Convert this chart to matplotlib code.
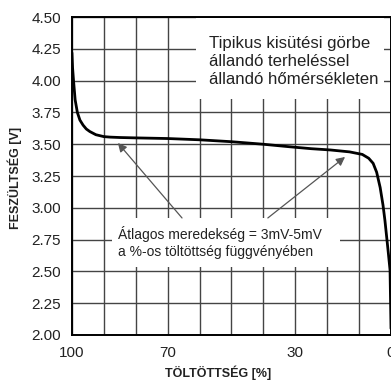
import matplotlib
matplotlib.use("Agg")
import matplotlib.pyplot as plt
from matplotlib.patches import Rectangle

plt.rcParams['font.family'] = ['Liberation Sans', 'DejaVu Sans']

# Discharge curve (state of charge in %, voltage in V)
soc = [100, 99.8, 99.5, 99.0, 98.3, 97.5, 96.5, 95.5, 94.4, 92.5, 90, 88, 85,
       80, 70, 60, 50, 40, 31.7, 25, 19, 13, 9, 7, 5.6, 4.5, 3.4, 2.5, 1.9,
       0.94, 0.3, 0]
volts = [4.22, 4.10, 4.00, 3.85, 3.75, 3.69, 3.65, 3.62, 3.60, 3.575, 3.56,
         3.556, 3.553, 3.55, 3.545, 3.535, 3.52, 3.50, 3.48, 3.465, 3.455,
         3.44, 3.42, 3.39, 3.35, 3.28, 3.16, 3.02, 2.90, 2.67, 2.51, 2.05]

x_grid = [100, 90, 80, 70, 60, 50, 40, 30, 20, 10, 0]
x_labels = ['100', '', '', '70', '', '', '', '30', '', '', '0']
y_ticks = [2.00, 2.25, 2.50, 2.75, 3.00, 3.25, 3.50, 3.75, 4.00, 4.25, 4.50]

title_lines = "Tipikus kisütési görbe\nállandó terheléssel\nállandó hőmérsékleten"
note_lines = "Átlagos meredekség = 3mV-5mV\na %-os töltöttség függvényében"

fig = plt.figure(figsize=(3.91, 3.81), dpi=100)
ax = fig.add_axes([0.184, 0.121, 0.816, 0.834])

ax.plot(soc, volts, color='black', lw=2.0, zorder=4, solid_capstyle='round')

ax.set_xlim(100, 0)
ax.set_ylim(2.0, 4.5)
ax.set_xticks(x_grid)
ax.set_xticklabels(x_labels)
ax.set_yticks(y_ticks)
ax.set_yticklabels(['%.2f' % v for v in y_ticks])
ax.tick_params(length=0, labelsize=11, colors='#222222')
ax.tick_params(axis='x', pad=8)
ax.tick_params(axis='y', pad=8)
ax.grid(True, color='#444444', lw=1.0, zorder=1)
for s in ax.spines.values():
    s.set_linewidth(1.4)
    s.set_color('black')
    s.set_zorder(5)

# white boxes hiding the grid behind the texts
ax.add_patch(Rectangle((61.1, 3.855), -58.9, 0.64, facecolor='white',
                       edgecolor='none', zorder=2))
ax.add_patch(Rectangle((87.5, 2.535), -71.5, 0.385, facecolor='white',
                       edgecolor='none', zorder=2))

ax.text(57, 4.15, title_lines, fontsize=12.1, color='#222222',
        va='center', ha='left', linespacing=1.25, zorder=3)
ax.text(85.6, 2.725, note_lines, fontsize=10, color='#222222',
        va='center', ha='left', linespacing=1.3, zorder=3)

arrow = dict(arrowstyle='-|>', color='#555555', lw=0.9, mutation_scale=13,
             shrinkA=0, shrinkB=0)
ax.annotate('', xy=(85.6, 3.51), xytext=(65.5, 2.92), arrowprops=arrow, zorder=3)
ax.annotate('', xy=(14.4, 3.40), xytext=(38.6, 2.92), arrowprops=arrow, zorder=3)

fig.text(0.038, 0.533, 'FESZÜLTSÉG [V]', rotation=90, fontsize=9, fontweight='bold',
         color='#222222', ha='center', va='center')
fig.text(0.558, 0.021, 'TÖLTÖTTSÉG [%]', fontsize=9, fontweight='bold',
         color='#222222', ha='center', va='center')

fig.savefig('out.png', dpi=100, facecolor='white')
